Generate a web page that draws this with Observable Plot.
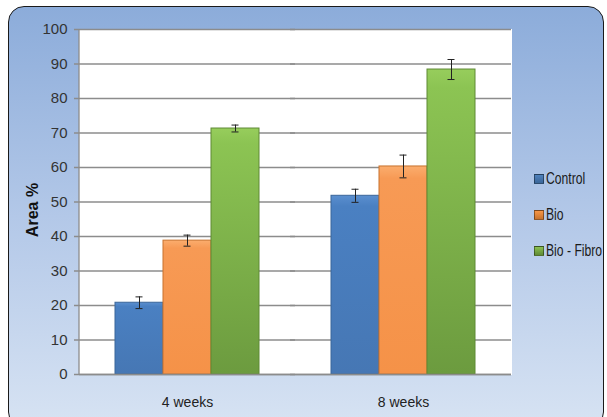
<!DOCTYPE html>
<html>
<head>
<meta charset="utf-8">
<script src="https://cdn.jsdelivr.net/npm/d3@7"></script>
<script src="https://cdn.jsdelivr.net/npm/@observablehq/plot@0.6"></script>
<style>
  html, body { margin: 0; padding: 0; background: #fff; }
  #wrap { position: relative; width: 607px; height: 417px; overflow: hidden;
    font-family: "Liberation Sans", Arial, sans-serif; }
  #bg { position: absolute; left: 8px; top: 6px; width: 594px; height: 420px;
    border: 1.6px solid #1a1a1a; border-radius: 16px;
    background: linear-gradient(180deg, #8cacda 0%, #b3c8e8 50%, #d7e3f3 100%); }
  #chart { position: absolute; left: 0; top: 0; }
  #ylabel { position: absolute; left: 33px; top: 210px; transform: translate(-50%, -50%) rotate(-90deg);
    font-family: "Liberation Sans", Arial, sans-serif; font-weight: bold; font-size: 16px; color: #111; white-space: nowrap; }
  #legend { position: absolute; left: 534px; top: 170px; width: 80px; }
  .li { display: flex; align-items: center; height: 18px; margin-bottom: 18px; font-size: 16px; color: #1a1a1a; white-space: nowrap; }
  .li .tx { display: inline-block; transform: scaleX(0.76); transform-origin: 0 50%; }
  .sw { flex: none; width: 8px; height: 8px; margin-right: 2px; border: 0.5px solid rgba(0,0,0,0.4); }
</style>
</head>
<body>
<div id="wrap">
  <div id="bg"></div>
  <div id="chart"></div>
  <div id="ylabel">Area %</div>
  <div id="legend"></div>
</div>
<script>
const weeks = ["4 weeks", "8 weeks"];
const series = ["Control", "Bio", "Bio - Fibro"];
const controlValues = [20.8, 51.8];
const controlErrors = [1.7, 1.9];
const bioValues = [38.8, 60.3];
const bioErrors = [1.6, 3.3];
const bioFibroValues = [71.3, 88.4];
const bioFibroErrors = [1.0, 2.9];
const yTicks = [0, 10, 20, 30, 40, 50, 60, 70, 80, 90, 100];

const seriesColors = ["#4f81bd", "#f79646", "#8cc152"];
const seriesStrokes = ["#3a6699", "#c8732e", "#5f8a35"];
const gradIds = ["gCtl", "gBio", "gBF"];

const valuesBySeries = [controlValues, bioValues, bioFibroValues];
const errorsBySeries = [controlErrors, bioErrors, bioFibroErrors];
const data = [];
weeks.forEach((w, i) => {
  series.forEach((s, j) => {
    data.push({week: w, series: s, value: valuesBySeries[j][i], err: errorsBySeries[j][i], k: j});
  });
});

const chart = Plot.plot({
  width: 607,
  height: 417,
  marginTop: 29,
  marginBottom: 43,
  marginLeft: 79,
  marginRight: 96,
  style: {background: "transparent", fontFamily: "'Liberation Sans', Arial, sans-serif", fontSize: "14px", overflow: "visible"},
  fx: {domain: weeks, padding: 0, label: null},
  x: {domain: series, paddingInner: 0, paddingOuter: 0.75, axis: null},
  y: {domain: [0, 100], label: null},
  marks: [
    Plot.frame({fill: "white", stroke: "white", strokeWidth: 1, shapeRendering: "crispEdges"}),
    Plot.gridY(yTicks, {stroke: "#8c8c8c", strokeOpacity: 1, strokeWidth: 1.3, insetLeft: -5}),
    Plot.axisY(yTicks, {tickSize: 0, tickPadding: 12, fill: "#333", fontSize: 15, label: null}),
    Plot.axisFx({anchor: "bottom", tickSize: 0, tickPadding: 23, fontSize: 14, fill: "#222", label: null}),
    Plot.barY(data, {fx: "week", x: "series", y: "value", fill: d => `url(#${gradIds[d.k]})`,
      stroke: d => seriesStrokes[d.k], strokeWidth: 1}),
    Plot.ruleY([0], {stroke: "#8c8c8c", strokeWidth: 1.5}),
    Plot.ruleX(data, {fx: "week", x: "series", y1: d => d.value - d.err, y2: d => d.value + d.err, stroke: "#222", strokeWidth: 1}),
    Plot.tickY(data, {fx: "week", x: "series", y: d => d.value - d.err, stroke: "#222", strokeWidth: 1, insetLeft: 20.5, insetRight: 20.5}),
    Plot.tickY(data, {fx: "week", x: "series", y: d => d.value + d.err, stroke: "#222", strokeWidth: 1, insetLeft: 20.5, insetRight: 20.5})
  ]
});

// gradient definitions for the bevelled bar fills
const svg = d3.select(chart.tagName.toLowerCase() === "svg" ? chart : chart.querySelector("svg"));
const defs = svg.insert("defs", ":first-child");
const gradStops = [
  [["0%", "#5b8fcf"], ["6%", "#4a80c2"], ["100%", "#4677b4"]],
  [["0%", "#fbad6e"], ["6%", "#f79a55"], ["100%", "#f59248"]],
  [["0%", "#97cd5c"], ["6%", "#8cc453"], ["100%", "#6c9b3f"]]
];
gradIds.forEach((id, j) => {
  const g = defs.append("linearGradient").attr("id", id).attr("x1", 0).attr("y1", 0).attr("x2", 0).attr("y2", 1);
  gradStops[j].forEach(([o, c]) => g.append("stop").attr("offset", o).attr("stop-color", c));
});
document.getElementById("chart").appendChild(chart);

// left axis line
const yScale = chart.scale("y");
svg.append("line").attr("x1", 79).attr("x2", 79)
  .attr("y1", yScale.apply(0)).attr("y2", yScale.apply(100))
  .attr("stroke", "#8c8c8c").attr("stroke-width", 1.3);

// legend
const legend = document.getElementById("legend");
series.forEach((s, j) => {
  const li = document.createElement("div");
  li.className = "li";
  const sw = document.createElement("span");
  sw.className = "sw";
  sw.style.background = `linear-gradient(180deg, ${seriesColors[j]}, ${seriesStrokes[j]})`;
  const t = document.createElement("span");
  t.className = "tx";
  t.textContent = s;
  li.appendChild(sw); li.appendChild(t);
  legend.appendChild(li);
});
</script>
</body>
</html>
